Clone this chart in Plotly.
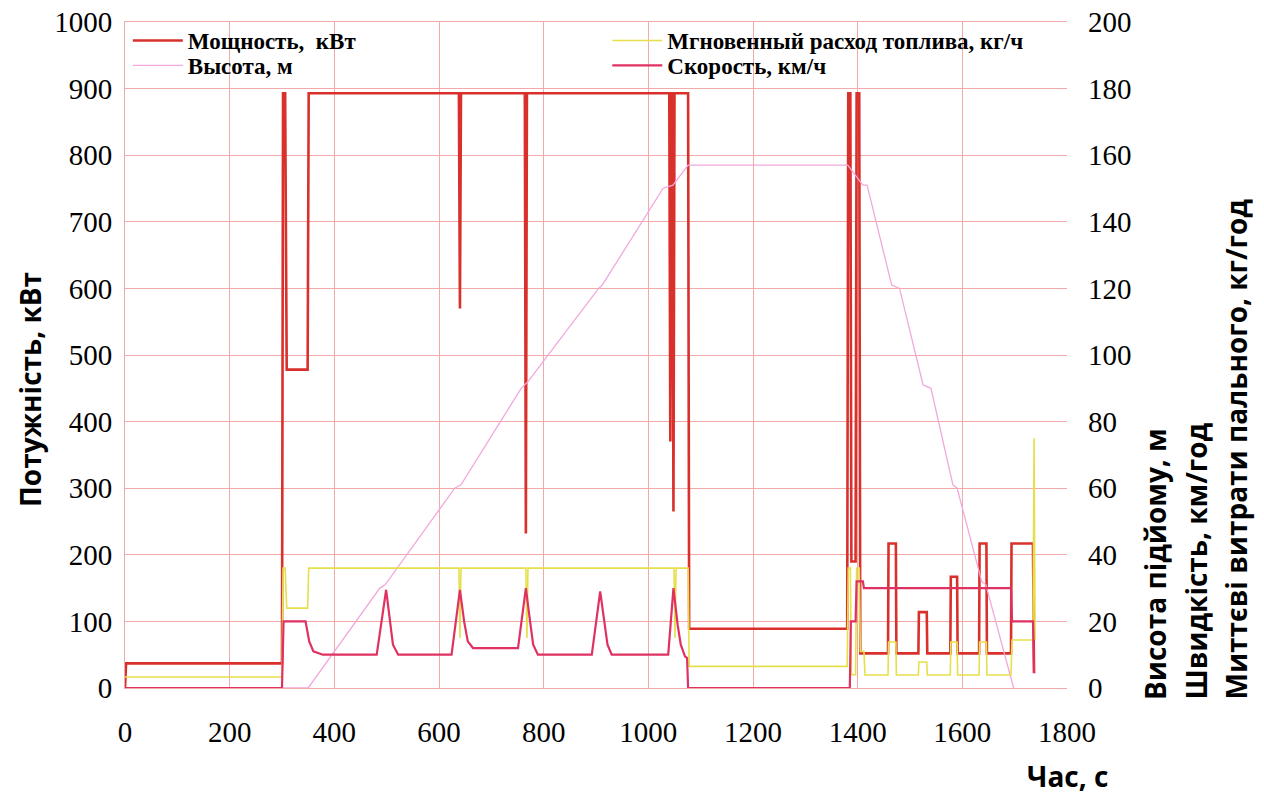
import plotly.graph_objects as go

# ---------------- data ----------------
power_t = [0, 2, 300, 302, 306, 309, 349, 351, 638, 640, 642, 764, 766, 768,
           1040, 1042, 1044, 1046, 1048, 1050, 1076, 1078, 1380, 1382, 1386, 1388,
           1396, 1398, 1403, 1405, 1458, 1459, 1473, 1474, 1516, 1517, 1532, 1533,
           1577, 1578, 1590, 1591, 1632, 1633, 1646, 1647, 1693, 1694, 1735, 1737]
power_v = [0, 37, 37, 893, 893, 478, 478, 893, 893, 570, 893, 893, 232, 893,
           893, 370, 893, 893, 265, 893, 893, 89, 89, 893, 893, 190,
           190, 893, 893, 52, 52, 217, 217, 52, 52, 114, 114, 52,
           52, 167, 167, 52, 52, 217, 217, 52, 52, 217, 217, 22]

alt_t = [0, 350, 487, 497, 630, 642, 757, 770, 905, 912, 1028, 1047, 1076,
         1381, 1410, 1418, 1465, 1480, 1525, 1540, 1582, 1590, 1637, 1645, 1698]
alt_v = [0, 0, 30, 31, 60, 61, 90, 92, 120, 121, 150, 151, 157,
         157, 151, 151, 121, 120, 91, 90, 61, 60, 32, 31, 0]

fuel_t = [0, 300, 302, 306, 309, 349, 351, 638, 640, 642, 766, 768, 770,
          1049, 1051, 1053, 1076, 1078, 1380, 1382, 1386, 1388, 1396, 1398, 1403,
          1405, 1412, 1414, 1458, 1459, 1473, 1474, 1516, 1517, 1532, 1533,
          1577, 1578, 1590, 1591, 1632, 1633, 1646, 1647, 1693, 1695, 1735, 1737, 1739]
fuel_v = [3.3, 3.3, 36, 36, 24, 24, 36, 36, 15, 36, 36, 15, 36,
          36, 15, 36, 36, 6.5, 6.5, 36, 36, 4, 4, 36, 36,
          11, 11, 3.9, 3.9, 13.8, 13.8, 3.9, 3.9, 7.8, 7.8, 3.9,
          3.9, 13.8, 13.8, 3.9, 3.9, 13.8, 13.8, 3.9, 3.9, 14.4, 14.4, 75, 14.4]

speed_t = [0, 300, 303, 345, 352, 360, 378, 481, 499, 506, 512, 522, 624, 640, 648,
           655, 665, 751, 766, 774, 780, 789, 892, 908, 916, 922, 930, 1038, 1048,
           1056, 1062, 1070, 1074, 1076, 1385, 1387, 1396, 1398, 1410, 1412, 1693,
           1695, 1735, 1737]
speed_v = [0, 0, 20, 20, 14, 11, 10, 10, 29.5, 20, 13, 10, 10, 29.5, 20,
           14, 12, 12, 30, 20, 13, 10, 10, 29, 19, 13, 10, 10, 30,
           19, 13, 9.5, 9, 0, 0, 20, 20, 32, 32, 30, 30,
           20, 20, 4.5]

x_ticks = [0, 200, 400, 600, 800, 1000, 1200, 1400, 1600, 1800]
left_ticks = [0, 100, 200, 300, 400, 500, 600, 700, 800, 900, 1000]
right_ticks = [0, 20, 40, 60, 80, 100, 120, 140, 160, 180, 200]

# ---------------- figure ----------------
GRID = "#f1aaaa"
SERIF = "Liberation Serif, Times New Roman, serif"
LEG_FONT = dict(family=SERIF, size=23, color="black")
TICK_FONT = dict(family=SERIF, size=29, color="black")

fig = go.Figure()
fig.add_trace(go.Scatter(x=power_t, y=power_v, mode="lines", name="<b>Мощность,  кВт</b>",
                         line=dict(color="#d9302c", width=2.6), legend="legend"))
fig.add_trace(go.Scatter(x=alt_t, y=alt_v, mode="lines", name="<b>Высота, м</b>",
                         line=dict(color="#f2a8dc", width=1.3), yaxis="y2", legend="legend3"))
fig.add_trace(go.Scatter(x=fuel_t, y=fuel_v, mode="lines", name="<b>Мгновенный расход топлива, кг/ч</b>",
                         line=dict(color="#e6df4c", width=1.6), yaxis="y2", legend="legend2"))
fig.add_trace(go.Scatter(x=speed_t, y=speed_v, mode="lines", name="<b>Скорость, км/ч</b>",
                         line=dict(color="#e03262", width=2.2), yaxis="y2", legend="legend4"))

ROW1 = 1.0 + 3 / 666
ROW2 = ROW1 - 25 / 666
LX1 = 0.003
LX2 = 0.512


def leg(x, y):
    return dict(x=x, y=y, xanchor="left", yanchor="top", bgcolor="rgba(0,0,0,0)",
                font=LEG_FONT, itemwidth=50, tracegroupgap=0)


fig.update_layout(
    width=1264, height=798,
    margin=dict(l=125, r=197, t=22, b=110, autoexpand=False),
    font=dict(family=SERIF, color="black"),
    paper_bgcolor="white", plot_bgcolor="white",
    showlegend=True,
    legend=leg(LX1, ROW1),
    legend3=leg(LX1, ROW2),
    legend2=leg(LX2, ROW1),
    legend4=leg(LX2, ROW2),
    xaxis=dict(range=[0, 1800], tickvals=x_ticks, ticktext=[str(v) for v in x_ticks],
               showgrid=True, gridcolor=GRID, gridwidth=1, zeroline=False,
               showline=True, linecolor=GRID, mirror=True, ticks="", automargin=False,
               tickfont=TICK_FONT, ticklabelstandoff=18, ticklabeloverflow="allow"),
    yaxis=dict(range=[0, 1000], tickvals=left_ticks, ticktext=[str(v) for v in left_ticks],
               showgrid=True, gridcolor=GRID, gridwidth=1, zeroline=False,
               showline=True, linecolor=GRID, ticks="", automargin=False,
               tickfont=TICK_FONT, ticklabelstandoff=6, ticklabeloverflow="allow"),
    yaxis2=dict(range=[0, 200], tickvals=right_ticks, ticktext=[str(v) for v in right_ticks],
                overlaying="y", side="right", showgrid=False, zeroline=False,
                showline=False, ticks="", automargin=False,
                tickfont=TICK_FONT, ticklabelstandoff=20, ticklabeloverflow="allow"),
)

TITLE_FONT = dict(family="Open Sans", size=28, color="black")
fig.add_annotation(text="<b>Потужність, кВт</b>", xref="paper", yref="paper",
                   x=(30 - 125) / 942, y=(688 - 390) / 666, textangle=-90, showarrow=False,
                   font=TITLE_FONT, xanchor="center", yanchor="middle")
right_titles = ["<b>Висота підйому, м</b>", "<b>Швидкість, км/год</b>",
                "<b>Миттєві витрати пального, кг/год</b>"]
for i, txt in enumerate(right_titles):
    fig.add_annotation(text=txt, xref="paper", yref="paper",
                       x=(1155 + 40 * i - 125) / 942, y=(688 - 702) / 666, textangle=-90,
                       showarrow=False, font=dict(family="Open Sans", size=28, color="black"),
                       xanchor="center", yanchor="bottom")
fig.add_annotation(text="<b>Час, с</b>", xref="paper", yref="paper",
                   x=(1110 - 125) / 942, y=(688 - 776) / 666, showarrow=False, font=TITLE_FONT,
                   xanchor="right", yanchor="middle")

fig.write_html("out.html", config={"displayModeBar": False},
               post_script="document.body.style.margin='0';document.body.style.overflow='hidden';")
